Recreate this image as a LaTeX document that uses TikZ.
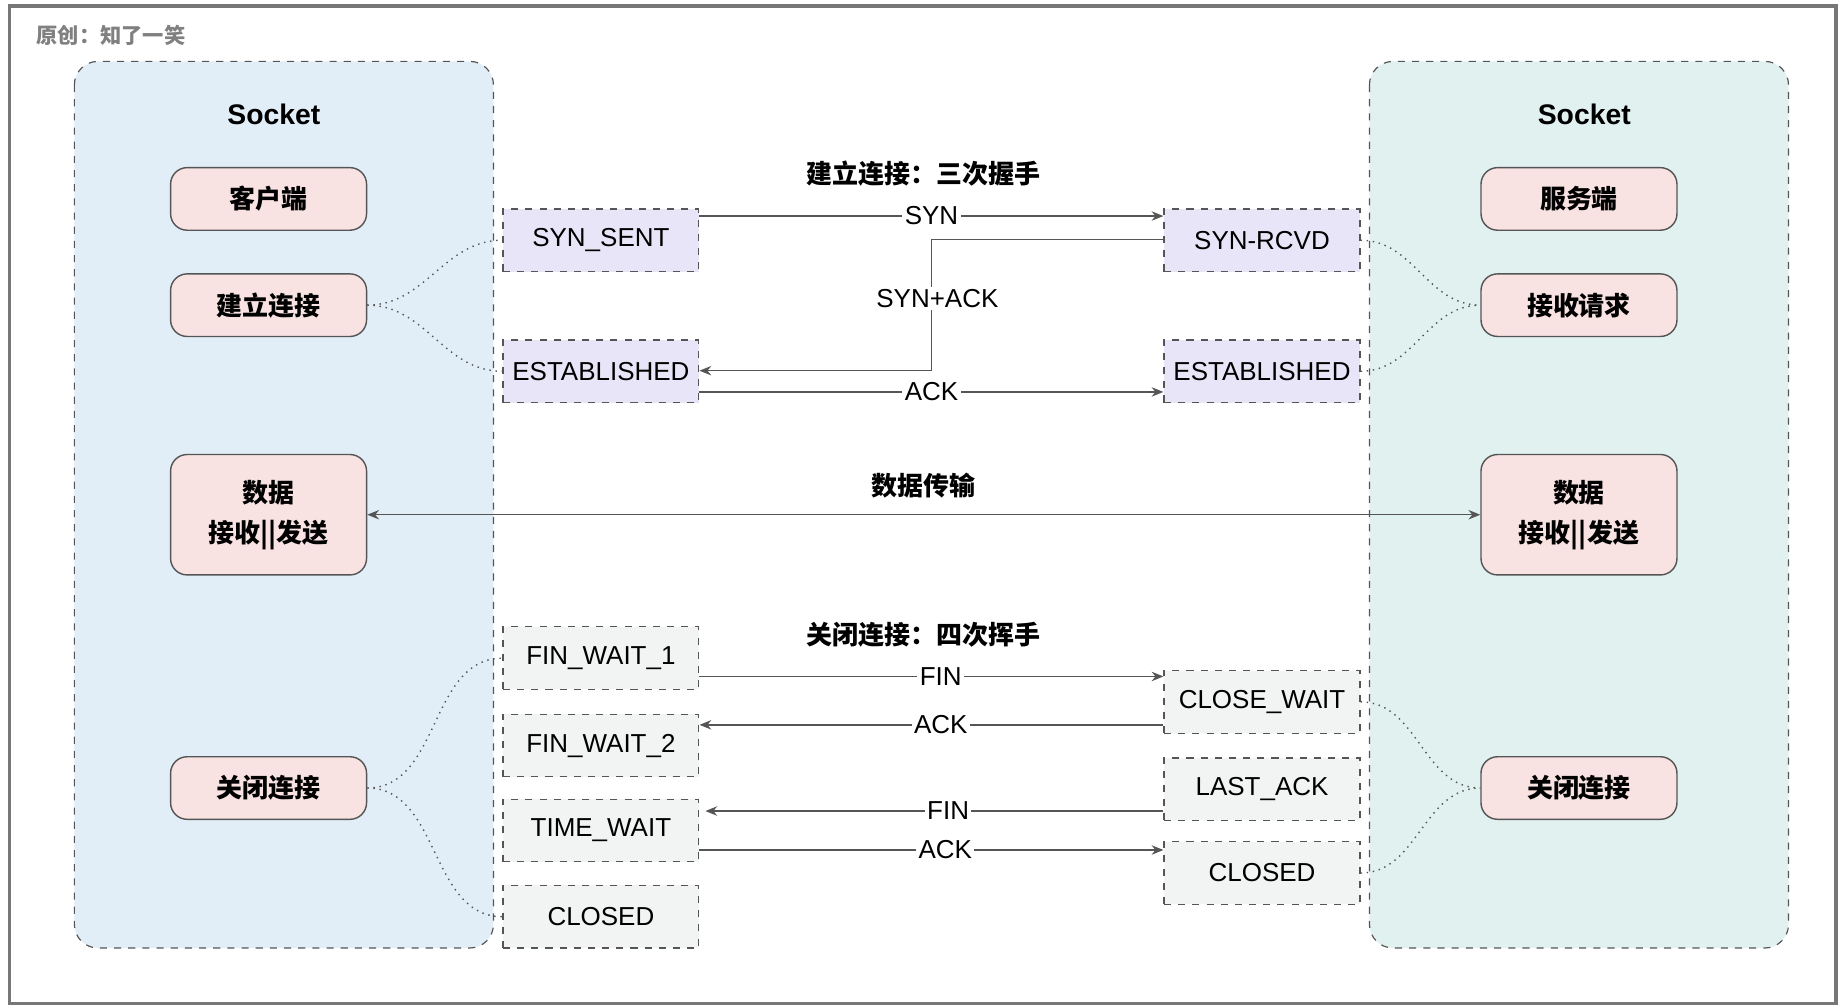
\documentclass[tikz,border=0pt]{standalone}
\usepackage{fontspec}
\setmainfont{Liberation Sans}
\newfontfamily\cjk{Noto Sans CJK SC}
\usetikzlibrary{arrows.meta}
\definecolor{lblue}{HTML}{E1EEF8}
\definecolor{lgreen}{HTML}{E0F1EF}
\definecolor{pinkf}{HTML}{F8E2E2}
\definecolor{purf}{HTML}{E9E5F8}
\definecolor{grayf}{HTML}{F2F3F3}
\definecolor{lc}{HTML}{555555}
\begin{document}
\begin{tikzpicture}[x=0.5pt,y=-0.5pt,
  panel/.style={draw=lc,dashed,rounded corners=10pt,line width=0.5pt},
  pink/.style={draw=lc,fill=pinkf,rounded corners=7pt,minimum width=83pt,minimum height=26.5pt,line width=0.6pt,font=\cjk\bfseries\fontsize{11}{17}\selectfont,align=center},
  st/.style={draw=lc,dashed,minimum width=83pt,minimum height=26.5pt,line width=0.5pt,font=\fontsize{11}{13}\selectfont,inner sep=1pt},
  pur/.style={st,fill=purf},
  gry/.style={st,fill=grayf},
  ar/.style={draw=lc,line width=0.6pt,-{Stealth[length=5pt,width=4pt]}},
  lab/.style={fill=white,inner sep=1pt,font=\fontsize{11}{13}\selectfont},
  hd/.style={font=\cjk\bfseries\fontsize{11}{13}\selectfont},
  dot/.style={draw=lc,dotted,line width=0.6pt}]
\useasboundingbox (0,0) rectangle (1562,852);
\draw[draw=lc!80,line width=1.5pt] (8,5) rectangle (1555,850);
\node[font=\cjk\bfseries\fontsize{9}{11}\selectfont,text=gray,anchor=west] (orig) at (24,30) {原创：知了一笑};
\draw[panel,fill=lblue] (63,52) rectangle (418,803);
\draw[panel,fill=lgreen] (1160,52) rectangle (1515,803);
\node[font=\bfseries\fontsize{12}{14}\selectfont] (s1) at (232,97) {Socket};
\node[font=\bfseries\fontsize{12}{14}\selectfont] (s2) at (1342,97) {Socket};
% left pink
\node[pink] (kh) at (227.5,168.5) {客户端};
\node[pink] (jl) at (227.5,258.5) {建立连接};
\node[pink,minimum height=51pt] (sj1) at (227.5,436) {数据\\接收||发送};
\node[pink] (gb1) at (227.5,667.5) {关闭连接};
% right pink
\node[pink] (fw) at (1337.5,168.5) {服务端};
\node[pink] (js) at (1337.5,258.5) {接收请求};
\node[pink,minimum height=51pt] (sj2) at (1337.5,436) {数据\\接收||发送};
\node[pink] (gb2) at (1337.5,667.5) {关闭连接};
% states
\node[pur] (ss) at (509,203.5) {SYN\_SENT};
\node[pur] (e1) at (509,314.5) {ESTABLISHED};
\node[pur] (sr) at (1069,203.5) {SYN-RCVD};
\node[pur] (e2) at (1069,314.5) {ESTABLISHED};
\node[gry] (f1) at (509,557.5) {FIN\_WAIT\_1};
\node[gry] (f2) at (509,631.5) {FIN\_WAIT\_2};
\node[gry] (tw) at (509,703.5) {TIME\_WAIT};
\node[gry] (c1) at (509,776.5) {CLOSED};
\node[gry] (cw) at (1069,594.5) {CLOSE\_WAIT};
\node[gry] (la) at (1069,668.5) {LAST\_ACK};
\node[gry] (c2) at (1069,739.5) {CLOSED};
% headers
\node[hd] (h1) at (782,147) {建立连接：三次握手};
\node[hd] (h2) at (782,411) {数据传输};
\node[hd] (h3) at (782,538) {关闭连接：四次挥手};
% handshake
\draw[ar] (ss.east|-0,183) -- node[lab,pos=0.5]{SYN} (sr.west|-0,183);
\coordinate (k1) at (789,203);
\coordinate (k2) at (789,314);
\draw[ar] (sr.west|-0,203) -- (k1) -- (k2) -- (e1.east|-0,314);
\node[lab] (sa) at (794,253) {SYN+ACK};
\draw[ar] (e1.east|-0,332) -- node[lab]{ACK} (e2.west|-0,332);
\draw[ar,{Stealth[length=5pt,width=4pt]}-{Stealth[length=5pt,width=4pt]}] (sj1.east) -- (sj2.west);
% close
\draw[ar] (f1.east|-0,573) -- node[lab,pos=0.52]{FIN} (cw.west|-0,573);
\draw[ar] (cw.west|-0,614) -- node[lab,pos=0.48]{ACK} (f2.east|-0,614);
\draw[ar] (la.west|-0,687) -- node[lab,pos=0.47]{FIN} ([xshift=2.5pt]tw.east|-0,687);
\draw[ar] (tw.east|-0,720) -- node[lab,pos=0.53]{ACK} (c2.west|-0,720);
% dotted
\draw[dot] (jl.east) to[out=0,in=180] (ss.west);
\draw[dot] (jl.east) to[out=0,in=180] (e1.west);
\draw[dot] (sr.east) to[out=0,in=180] (js.west);
\draw[dot] (e2.east) to[out=0,in=180] (js.west);
\draw[dot] (gb1.east) to[out=0,in=180] (f1.west);
\draw[dot] (gb1.east) to[out=0,in=180] (c1.west);
\draw[dot] (cw.east) to[out=0,in=180] (gb2.west);
\draw[dot] (c2.east) to[out=0,in=180] (gb2.west);
\end{tikzpicture}
\end{document}
